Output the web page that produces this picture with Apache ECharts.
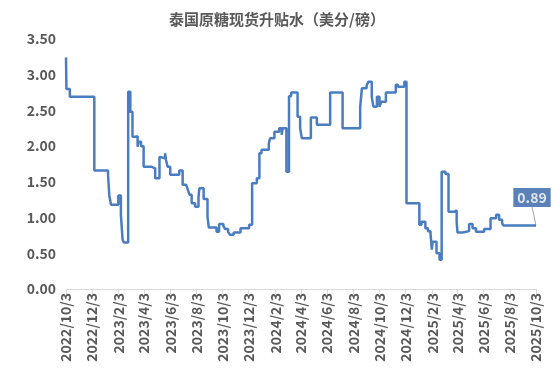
<!DOCTYPE html>
<html>
<head>
<meta charset="utf-8">
<script src="https://cdn.jsdelivr.net/npm/echarts@6/dist/echarts.min.js"></script>
<style>
html,body{margin:0;padding:0;background:#fff;}
#main{width:554px;height:388px;}
</style>
</head>
<body>
<div id="main"></div>
<script>
const chartTitle = '泰国原糖现货升贴水（美分/磅）';
const dates = ['2022/10/3','2022/10/4','2022/10/12','2022/12/8','2023/1/9','2023/1/12','2023/1/16','2023/2/2','2023/2/8','2023/2/12','2023/2/15','2023/2/25','2023/3/2','2023/3/7','2023/3/14','2023/3/19','2023/3/21','2023/3/27','2023/4/2','2023/4/21','2023/4/29','2023/5/9','2023/5/13','2023/5/22','2023/5/24','2023/5/28','2023/6/3','2023/6/24','2023/7/2','2023/7/10','2023/7/14','2023/7/18','2023/7/23','2023/7/31','2023/8/8','2023/8/10','2023/8/20','2023/8/29','2023/9/1','2023/9/19','2023/9/25','2023/10/5','2023/10/9','2023/10/16','2023/10/20','2023/10/29','2023/11/14','2023/12/4','2023/12/11','2023/12/22','2023/12/28','2024/1/2','2024/1/19','2024/1/22','2024/2/1','2024/2/12','2024/2/18','2024/2/20','2024/2/29','2024/3/6','2024/3/11','2024/3/26','2024/4/1','2024/4/5','2024/4/26','2024/5/10','2024/6/10','2024/7/9','2024/8/19','2024/8/23','2024/9/3','2024/9/7','2024/9/15','2024/9/19','2024/9/27','2024/10/3','2024/10/7','2024/10/18','2024/11/10','2024/11/15','2024/11/30','2024/12/5','2025/1/4','2025/1/9','2025/1/18','2025/1/24','2025/1/30','2025/2/2','2025/2/4','2025/2/13','2025/2/20','2025/2/25','2025/3/6','2025/3/13','2025/3/26','2025/4/1','2025/4/3','2025/4/15','2025/4/30','2025/5/8','2025/5/16','2025/6/4','2025/6/19','2025/7/2','2025/7/9','2025/7/16','2025/7/19','2025/10/3'];
const values = [3.24,2.80,2.69,1.66,1.60,1.31,1.18,1.31,1.04,0.69,0.65,2.76,2.48,2.13,2.14,1.99,2.06,2.00,1.71,1.69,1.55,1.85,1.83,1.90,1.81,1.71,1.60,1.66,1.46,1.44,1.39,1.32,1.20,1.15,1.29,1.41,1.26,1.01,0.86,0.80,0.91,0.88,0.84,0.80,0.76,0.79,0.85,0.90,1.48,1.55,1.90,1.95,2.04,2.11,2.20,2.25,2.16,2.25,1.64,2.70,2.75,2.41,2.25,2.11,2.40,2.30,2.75,2.25,2.55,2.81,2.85,2.90,2.69,2.55,2.69,2.55,2.62,2.75,2.86,2.83,2.90,1.20,0.90,0.94,0.85,0.81,0.78,0.55,0.66,0.50,0.41,1.64,1.61,1.08,1.10,0.94,0.79,0.81,0.91,0.85,0.80,0.84,0.99,1.04,0.97,0.92,0.89,0.89];
const xTickLabels = ['2022/10/3','2022/12/3','2023/2/3','2023/4/3','2023/6/3','2023/8/3','2023/10/3','2023/12/3','2024/2/3','2024/4/3','2024/6/3','2024/8/3','2024/10/3','2024/12/3','2025/2/3','2025/4/3','2025/6/3','2025/8/3','2025/10/3'];
const yMin = 0, yMax = 3.5, yStep = 0.5;

function ts(s){ const p = s.split('/').map(Number); return new Date(p[0], p[1]-1, p[2]).getTime(); }
function fmt(v){ const d = new Date(v); return d.getFullYear()+'/'+(d.getMonth()+1)+'/'+d.getDate(); }

const tickValues = xTickLabels.map(ts);
const lineData = dates.map((d,i)=>[ts(d), values[i]]);
const last = lineData[lineData.length-1];

const chart = echarts.init(document.getElementById('main'), null, {renderer:'canvas'});
const fontFam = '"Noto Sans CJK SC", "Open Sans", sans-serif';
chart.setOption({
  animation: false,
  backgroundColor: '#ffffff',
  title: {
    text: chartTitle,
    left: 'center',
    top: 7,
    textStyle: {fontFamily: fontFam, fontSize: 15, fontWeight: 'bold', color: '#595959'}
  },
  grid: {left: 66, right: 18, top: 39, bottom: 99, containLabel: false},
  xAxis: {
    type: 'value',
    min: tickValues[0],
    max: tickValues[tickValues.length-1],
    axisLine: {show: true, lineStyle: {color: '#D9D9D9', width: 1}},
    axisTick: {show: true, customValues: tickValues, length: 5, lineStyle: {color: '#D9D9D9'}},
    axisLabel: {
      customValues: tickValues,
      rotate: 90,
      margin: 4,
      formatter: fmt,
      fontFamily: fontFam,
      fontSize: 14,
      fontWeight: 'bold',
      color: '#595959',
      showMinLabel: true,
      showMaxLabel: true
    },
    splitLine: {show: false}
  },
  yAxis: {
    type: 'value',
    min: yMin, max: yMax, interval: yStep,
    axisLine: {show: false},
    axisTick: {show: false},
    splitLine: {show: false},
    axisLabel: {
      formatter: v => v.toFixed(2),
      fontFamily: fontFam, fontSize: 14, fontWeight: 'bold', color: '#595959', margin: 10
    }
  },
  series: [
    {
      type: 'line',
      step: 'end',
      data: lineData,
      showSymbol: false,
      lineStyle: {color: '#4A7DC0', width: 2.5},
      silent: true
    },
    {
      type: 'scatter',
      data: [last],
      symbolSize: 1,
      itemStyle: {color: 'rgba(0,0,0,0)'},
      label: {
        show: true,
        position: 'top',
        formatter: p => p.value[1].toFixed(2),
        color: '#ffffff',
        fontFamily: fontFam,
        fontSize: 14,
        fontWeight: 'bold',
        backgroundColor: '#3262A8',
        padding: [3, 4, 2, 4],
        borderRadius: 0
      },
      labelLayout: {dx: -4, dy: -13},
      labelLine: {show: true, lineStyle: {color: '#A6A6A6', width: 1}},
      silent: true
    }
  ]
});
</script>
</body>
</html>
